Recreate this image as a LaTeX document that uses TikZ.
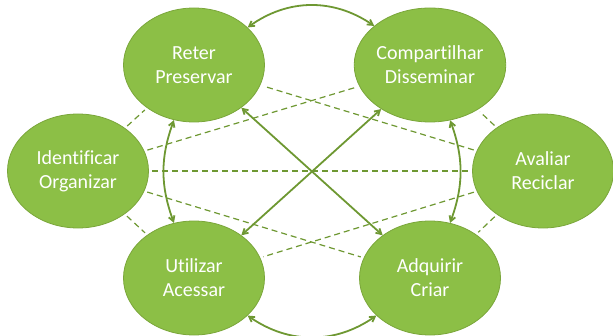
\documentclass[tikz,border=0pt]{standalone}
\usepackage{fontspec}
\setmainfont[Ligatures={NoCommon}]{Carlito}
\usetikzlibrary{shapes.geometric}
\usetikzlibrary{arrows.meta}
\usepackage{xcolor}
\definecolor{verde}{RGB}{140,191,70}
\definecolor{borda}{RGB}{122,166,58}
\definecolor{linha}{RGB}{110,152,50}

\begin{document}
\begin{tikzpicture} [x=1pt, y=1pt,
 fase/.style={ellipse, fill=verde, draw=borda, line width=.8pt, minimum width=141pt, minimum height=114pt, inner sep=0, align=center, text=white, font=\fontsize{20}{24}\selectfont},
 tracejada/.style={linha, line width=1.2pt, dash pattern=on 6pt off 4pt, shorten <=3pt, shorten >=3pt},
 ligacao/.style={linha, line width=1.8pt, <->, >={Straight Barb[angle=60:6pt]}}]
\useasboundingbox (0,0) rectangle (613,335);
\node[fase] (reter) at (194,270) {Reter\\Preservar};
\node[fase] (compart) at (430,270) {Compartilhar\\Disseminar};
\node[fase] (ident) at (78,164) {Identificar\\Organizar};
\node[fase] (avaliar) at (543,164) {Avaliar\\Reciclar};
\node[fase] (utilizar) at (194,57) {Utilizar\\Acessar};
\node[fase] (adquirir) at (430,57) {Adquirir\\Criar};
% ligacoes tracejadas
\foreach \a/\b in {ident/reter, ident/compart, ident/avaliar, ident/adquirir, ident/utilizar, avaliar/reter, avaliar/compart, avaliar/utilizar, avaliar/adquirir} {
 \draw[tracejada] (\a) -- (\b);
}
% setas
\draw[ligacao] (reter) to[bend left=35] (compart);
\draw[ligacao] (utilizar) to[bend right=35] (adquirir);
\draw[ligacao] (reter) to[bend right=20] (utilizar);
\draw[ligacao] (compart) to[bend left=20] (adquirir);
\draw[ligacao] (reter) -- (adquirir);
\draw[ligacao] (compart) -- (utilizar);
\end{tikzpicture}
\end{document}
